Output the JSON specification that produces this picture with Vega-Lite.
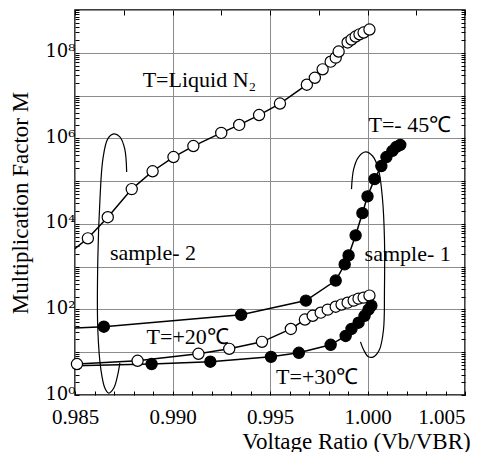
{
  "$schema": "https://vega.github.io/schema/vega-lite/v6.json",
  "autosize": {"type": "none"},
  "padding": {"left": 75, "top": 10, "right": 24, "bottom": 57},
  "width": 390,
  "height": 385,
  "background": "white",
  "config": {
    "font": "Liberation Serif",
    "view": {"stroke": "black", "strokeWidth": 1.5},
    "axis": {
      "labelFont": "Liberation Serif",
      "titleFont": "Liberation Serif",
      "labelColor": "black",
      "titleColor": "black",
      "titleFontWeight": "normal",
      "tickColor": "black",
      "domain": false,
      "labelOverlap": false
    }
  },
  "datasets": {
    "curves": [
      {"series": "N2", "x": 0.985, "y": 2630, "measured": false},
      {"series": "N2", "x": 0.98566, "y": 4600, "measured": true},
      {"series": "N2", "x": 0.98668, "y": 14300, "measured": true},
      {"series": "N2", "x": 0.98791, "y": 65000, "measured": true},
      {"series": "N2", "x": 0.98898, "y": 170000, "measured": true},
      {"series": "N2", "x": 0.99005, "y": 365000, "measured": true},
      {"series": "N2", "x": 0.99107, "y": 660000, "measured": true},
      {"series": "N2", "x": 0.9925, "y": 1340000, "measured": true},
      {"series": "N2", "x": 0.99342, "y": 2060000, "measured": true},
      {"series": "N2", "x": 0.99444, "y": 3500000, "measured": true},
      {"series": "N2", "x": 0.99551, "y": 6500000, "measured": true},
      {"series": "N2", "x": 0.99689, "y": 17900000, "measured": true},
      {"series": "N2", "x": 0.9973, "y": 26000000, "measured": true},
      {"series": "N2", "x": 0.9977, "y": 41000000, "measured": true},
      {"series": "N2", "x": 0.99811, "y": 62000000, "measured": true},
      {"series": "N2", "x": 0.99837, "y": 77000000, "measured": true},
      {"series": "N2", "x": 0.99852, "y": 107000000, "measured": true},
      {"series": "N2", "x": 0.99898, "y": 174000000, "measured": true},
      {"series": "N2", "x": 0.99918, "y": 204000000, "measured": true},
      {"series": "N2", "x": 0.99939, "y": 240000000, "measured": true},
      {"series": "N2", "x": 0.99959, "y": 270000000, "measured": true},
      {"series": "N2", "x": 0.9998, "y": 297000000, "measured": true},
      {"series": "N2", "x": 1.0001, "y": 350000000, "measured": true},
      {"series": "m45", "x": 0.985, "y": 37, "measured": false},
      {"series": "m45", "x": 0.98648, "y": 39.5, "measured": true},
      {"series": "m45", "x": 0.99352, "y": 75, "measured": true},
      {"series": "m45", "x": 0.99684, "y": 161, "measured": true},
      {"series": "m45", "x": 0.99837, "y": 474, "measured": true},
      {"series": "m45", "x": 0.99883, "y": 1130, "measured": true},
      {"series": "m45", "x": 0.99903, "y": 1830, "measured": true},
      {"series": "m45", "x": 0.99939, "y": 5400, "measured": true},
      {"series": "m45", "x": 0.99974, "y": 17800, "measured": true},
      {"series": "m45", "x": 1.0, "y": 44000, "measured": true},
      {"series": "m45", "x": 1.00036, "y": 111000, "measured": true},
      {"series": "m45", "x": 1.00071, "y": 225000, "measured": true},
      {"series": "m45", "x": 1.00097, "y": 366000, "measured": true},
      {"series": "m45", "x": 1.00128, "y": 510000, "measured": true},
      {"series": "m45", "x": 1.00148, "y": 630000, "measured": true},
      {"series": "m45", "x": 1.00168, "y": 700000, "measured": true},
      {"series": "p20", "x": 0.9851, "y": 5.3, "measured": true},
      {"series": "p20", "x": 0.98821, "y": 6.3, "measured": true},
      {"series": "p20", "x": 0.99133, "y": 9.2, "measured": true},
      {"series": "p20", "x": 0.99291, "y": 12, "measured": true},
      {"series": "p20", "x": 0.99459, "y": 17.5, "measured": true},
      {"series": "p20", "x": 0.99607, "y": 35, "measured": true},
      {"series": "p20", "x": 0.99679, "y": 58, "measured": true},
      {"series": "p20", "x": 0.99719, "y": 71, "measured": true},
      {"series": "p20", "x": 0.9976, "y": 84, "measured": true},
      {"series": "p20", "x": 0.99796, "y": 99, "measured": true},
      {"series": "p20", "x": 0.99837, "y": 116, "measured": true},
      {"series": "p20", "x": 0.99867, "y": 130, "measured": true},
      {"series": "p20", "x": 0.99898, "y": 144, "measured": true},
      {"series": "p20", "x": 0.99929, "y": 161, "measured": true},
      {"series": "p20", "x": 0.99954, "y": 179, "measured": true},
      {"series": "p20", "x": 0.9998, "y": 189, "measured": true},
      {"series": "p20", "x": 1.0001, "y": 211, "measured": true},
      {"series": "p30", "x": 0.985, "y": 4.8, "measured": false},
      {"series": "p30", "x": 0.98893, "y": 5.3, "measured": true},
      {"series": "p30", "x": 0.99194, "y": 6.0, "measured": true},
      {"series": "p30", "x": 0.99505, "y": 7.8, "measured": true},
      {"series": "p30", "x": 0.99648, "y": 9.7, "measured": true},
      {"series": "p30", "x": 0.99811, "y": 14.9, "measured": true},
      {"series": "p30", "x": 0.99888, "y": 24, "measured": true},
      {"series": "p30", "x": 0.99918, "y": 35, "measured": true},
      {"series": "p30", "x": 0.99954, "y": 49, "measured": true},
      {"series": "p30", "x": 0.99985, "y": 71, "measured": true},
      {"series": "p30", "x": 1.00005, "y": 99, "measured": true},
      {"series": "p30", "x": 1.0002, "y": 123, "measured": true}
    ],
    "loops": [
      {"loop": "sample-2", "order": 1, "x": 0.98765, "y": 163000},
      {"loop": "sample-2", "order": 2, "x": 0.98755, "y": 564000},
      {"loop": "sample-2", "order": 3, "x": 0.9873, "y": 1080000},
      {"loop": "sample-2", "order": 4, "x": 0.98699, "y": 1270000},
      {"loop": "sample-2", "order": 5, "x": 0.98668, "y": 970000},
      {"loop": "sample-2", "order": 6, "x": 0.98643, "y": 328000},
      {"loop": "sample-2", "order": 7, "x": 0.98628, "y": 37800},
      {"loop": "sample-2", "order": 8, "x": 0.98617, "y": 1476},
      {"loop": "sample-2", "order": 9, "x": 0.98617, "y": 33.6},
      {"loop": "sample-2", "order": 10, "x": 0.98633, "y": 3.86},
      {"loop": "sample-2", "order": 11, "x": 0.98653, "y": 1.46},
      {"loop": "sample-2", "order": 12, "x": 0.98673, "y": 1.11},
      {"loop": "sample-2", "order": 13, "x": 0.98699, "y": 1.46},
      {"loop": "sample-2", "order": 14, "x": 0.98719, "y": 2.95},
      {"loop": "sample-2", "order": 15, "x": 0.9873, "y": 5.64},
      {"loop": "sample-1", "order": 1, "x": 0.99918, "y": 65000},
      {"loop": "sample-1", "order": 2, "x": 0.99929, "y": 191000},
      {"loop": "sample-1", "order": 3, "x": 0.99954, "y": 366000},
      {"loop": "sample-1", "order": 4, "x": 0.9999, "y": 480000},
      {"loop": "sample-1", "order": 5, "x": 1.00026, "y": 386000},
      {"loop": "sample-1", "order": 6, "x": 1.00056, "y": 191000},
      {"loop": "sample-1", "order": 7, "x": 1.00077, "y": 37800},
      {"loop": "sample-1", "order": 8, "x": 1.00087, "y": 4350},
      {"loop": "sample-1", "order": 9, "x": 1.00087, "y": 292},
      {"loop": "sample-1", "order": 10, "x": 1.00082, "y": 33.6},
      {"loop": "sample-1", "order": 11, "x": 1.00061, "y": 11.4},
      {"loop": "sample-1", "order": 12, "x": 1.00031, "y": 7.8},
      {"loop": "sample-1", "order": 13, "x": 1.00005, "y": 7.8},
      {"loop": "sample-1", "order": 14, "x": 0.9998, "y": 11.4},
      {"loop": "sample-1", "order": 15, "x": 0.99964, "y": 17.5}
    ],
    "labels": [
      {"text": "T=Liquid N₂", "x": 0.98847, "y": 15500000},
      {"text": "T=- 45℃", "x": 1.00005, "y": 1440000},
      {"text": "sample- 2", "x": 0.98679, "y": 1450},
      {"text": "sample- 1", "x": 0.99985, "y": 1375},
      {"text": "T=+20℃", "x": 0.98867, "y": 15.6},
      {"text": "T=+30℃", "x": 0.99531, "y": 1.81}
    ]
  },
  "layer": [
    {
      "data": {"name": "loops"},
      "mark": {"type": "line", "color": "black", "strokeWidth": 1.2, "interpolate": "catmull-rom"},
      "encoding": {
        "x": {"field": "x", "type": "quantitative", "scale": {"domain": [0.985, 1.005], "nice": false, "zero": false}, "axis": null},
        "y": {"field": "y", "type": "quantitative", "scale": {"type": "log", "domain": [1, 1000000000], "nice": false}, "axis": null},
        "detail": {"field": "loop"},
        "order": {"field": "order", "type": "quantitative"}
      }
    },
    {
      "data": {"name": "curves"},
      "mark": {"type": "line", "color": "black", "strokeWidth": 1.5},
      "encoding": {
        "x": {
          "field": "x", "type": "quantitative",
          "scale": {"domain": [0.985, 1.005], "nice": false, "zero": false},
          "axis": {
            "orient": "bottom",
            "values": [0.985, 0.986, 0.987, 0.988, 0.989, 0.99, 0.991, 0.992, 0.993, 0.994, 0.995, 0.996, 0.997, 0.998, 0.999, 1.0, 1.001, 1.002, 1.003, 1.004, 1.005],
            "grid": true,
            "gridColor": {"condition": {"test": "abs(datum.value*200-round(datum.value*200))<0.01", "value": "#8c8c8c"}, "value": "transparent"},
            "gridWidth": 1,
            "tickSize": -4,
            "labelExpr": "abs(datum.value*200-round(datum.value*200))<0.01 ? format(datum.value,'.3f') : ''",
            "labelAlign": {"condition": {"test": "datum.value>1.004", "value": "right"}, "value": "center"},
            "labelFontSize": 21,
            "labelPadding": 15,
            "title": "Voltage Ratio (Vb/VBR)",
            "titleFontSize": 23,
            "titleX": 281,
            "titleY": 53,
            "titleBaseline": "alphabetic",
            "titleAlign": "center"
          }
        },
        "y": {
          "field": "y", "type": "quantitative",
          "scale": {"type": "log", "domain": [1, 1000000000], "nice": false},
          "axis": {
            "orient": "left",
            "values": [1,2,3,4,5,6,7,8,9,10,20,30,40,50,60,70,80,90,100,200,300,400,500,600,700,800,900,1000,2000,3000,4000,5000,6000,7000,8000,9000,10000,20000,30000,40000,50000,60000,70000,80000,90000,100000,200000,300000,400000,500000,600000,700000,800000,900000,1000000,2000000,3000000,4000000,5000000,6000000,7000000,8000000,9000000,10000000,20000000,30000000,40000000,50000000,60000000,70000000,80000000,90000000,100000000,200000000,300000000,400000000,500000000,600000000,700000000,800000000,900000000,1000000000],
            "grid": true,
            "gridColor": {"condition": {"test": "abs(log(datum.value)/LN10 - round(log(datum.value)/LN10)) < 0.001", "value": "#8c8c8c"}, "value": "transparent"},
            "gridWidth": 1,
            "tickSize": -4,
            "labelExpr": "(abs(log(datum.value)/LN10 - round(log(datum.value)/LN10)) < 0.001 && round(log(datum.value)/LN10) % 2 == 0 && datum.value < 500000000) ? '10' + ['⁰','¹','²','³','⁴','⁵','⁶','⁷','⁸','⁹'][round(log(datum.value)/LN10)] : ''",
            "labelFont": "DejaVu Serif",
            "labelFontSize": 18,
            "labelPadding": 4,
            "labelBaseline": "alphabetic",
            "labelOffset": 4,
            "title": "Multiplication Factor M",
            "titleFontSize": 23,
            "titleX": -55,
            "titleBaseline": "middle"
          }
        },
        "detail": {"field": "series"}
      }
    },
    {
      "data": {"name": "curves"},
      "transform": [{"filter": "datum.measured"}],
      "mark": {"type": "point", "shape": "circle", "filled": true, "stroke": "black", "strokeWidth": 1.2, "size": 125, "fillOpacity": 1, "strokeOpacity": 1},
      "encoding": {
        "x": {
          "field": "x", "type": "quantitative",
          "scale": {"domain": [0.985, 1.005], "nice": false, "zero": false},
          "axis": {"orient": "top", "values": [0.985, 0.9875, 0.99, 0.9925, 0.995, 0.9975, 1.0, 1.0025, 1.005], "labels": false, "grid": false, "tickSize": -5, "title": null}
        },
        "y": {
          "field": "y", "type": "quantitative",
          "scale": {"type": "log", "domain": [1, 1000000000], "nice": false},
          "axis": {"orient": "right", "values": [1,2,3,4,5,6,7,8,9,10,20,30,40,50,60,70,80,90,100,200,300,400,500,600,700,800,900,1000,2000,3000,4000,5000,6000,7000,8000,9000,10000,20000,30000,40000,50000,60000,70000,80000,90000,100000,200000,300000,400000,500000,600000,700000,800000,900000,1000000,2000000,3000000,4000000,5000000,6000000,7000000,8000000,9000000,10000000,20000000,30000000,40000000,50000000,60000000,70000000,80000000,90000000,100000000,200000000,300000000,400000000,500000000,600000000,700000000,800000000,900000000,1000000000], "labels": false, "grid": false, "tickSize": -4, "title": null}
        },
        "fill": {"field": "series", "type": "nominal", "scale": {"domain": ["N2", "m45", "p20", "p30"], "range": ["white", "black", "white", "black"]}, "legend": null}
      }
    },
    {
      "data": {"name": "labels"},
      "mark": {"type": "text", "align": "left", "baseline": "alphabetic", "fontSize": 22, "font": "Liberation Serif", "color": "black"},
      "encoding": {
        "x": {"field": "x", "type": "quantitative", "scale": {"domain": [0.985, 1.005], "nice": false, "zero": false}, "axis": null},
        "y": {"field": "y", "type": "quantitative", "scale": {"type": "log", "domain": [1, 1000000000], "nice": false}, "axis": null},
        "text": {"field": "text"}
      }
    }
  ],
  "resolve": {"axis": {"x": "independent", "y": "independent"}}
}
